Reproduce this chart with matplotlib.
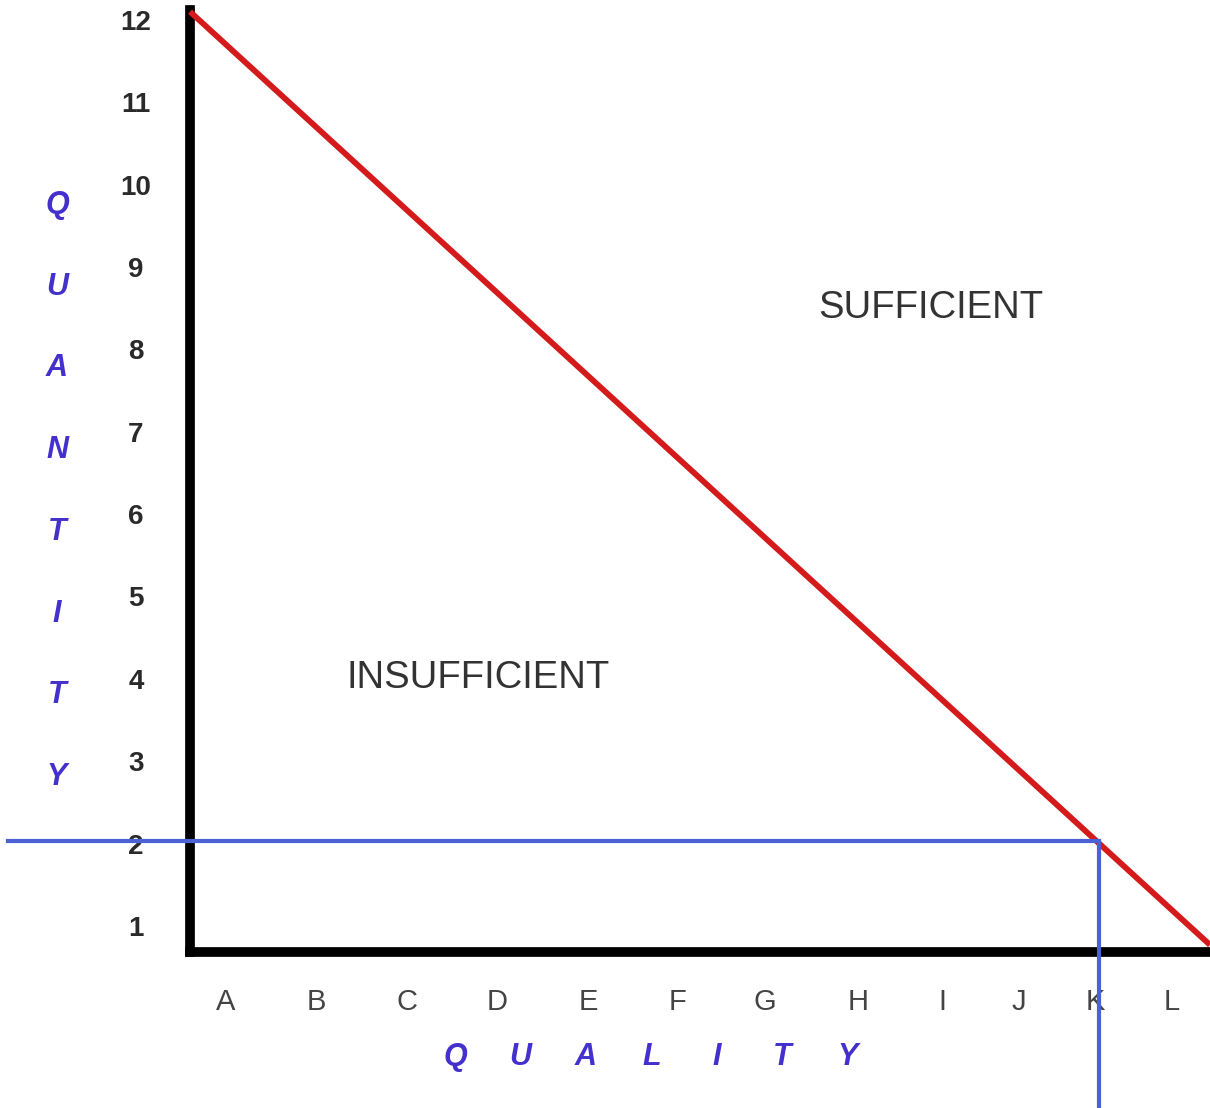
import matplotlib
matplotlib.use("Agg")
import matplotlib.pyplot as plt

# ---- data ----
x_labels = ["A", "B", "C", "D", "E", "F", "G", "H", "I", "J", "K", "L"]
x_ticks = [1.0, 2.0, 3.0, 4.0, 5.01, 6.0, 6.96, 7.99, 8.92, 9.77, 10.62, 11.46]
y_ticks = list(range(1, 13))
y_labels = [str(v) for v in y_ticks]

red_x = [0.602, 11.885]
red_y = [12.1, 0.77]

blue_h_x = [-1.41, 10.66]
blue_h_y = [2.03, 2.03]
blue_v_x = [10.66, 10.66]
blue_v_y = [2.03, -1.4]

region_labels = ["INSUFFICIENT", "SUFFICIENT"]
region_x = [3.79, 8.8]
region_y = [4.01, 8.5]

y_title = "QUANTITY"
x_title = "QUALITY"

# ---- figure ----
W, H = 1210, 1108
fig = plt.figure(figsize=(W / 100, H / 100), dpi=100)
plt.rcParams['font.family'] = ['Liberation Sans', 'DejaVu Sans']

ax = fig.add_axes([190 / W, (H - 952) / H, (W - 190) / W, (952 - 10) / H])
ax.set_xlim(0.602, 11.885)
ax.set_ylim(0.684, 12.12)

for s in ["top", "right"]:
    ax.spines[s].set_visible(False)
for s in ["left", "bottom"]:
    ax.spines[s].set_linewidth(7)
    ax.spines[s].set_color("black")
    ax.spines[s].set_capstyle("projecting")

ax.set_xticks(x_ticks)
ax.set_xticklabels(x_labels, fontsize=21, color="#444444")
ax.set_yticks(y_ticks)
ax.set_yticklabels(y_labels, fontsize=20, color="#2a2a2a")
ax.tick_params(axis="both", length=0)
ax.tick_params(axis="y", pad=39)
ax.tick_params(axis="x", pad=36)
for t in ax.get_yticklabels():
    t.set_ha("center")
    t.set_fontweight("bold")
for t in ax.get_xticklabels():
    t.set_va("center")

ax.plot(red_x, red_y, color="#d41a1a", lw=4.2, solid_capstyle="butt", clip_on=False, zorder=3)
ax.plot(blue_h_x, blue_h_y, color="#4b62d6", lw=3, clip_on=False, zorder=5)
ax.plot(blue_v_x, blue_v_y, color="#4b62d6", lw=3, clip_on=False, zorder=5)

for lab, xx, yy in zip(region_labels, region_x, region_y):
    ax.text(xx, yy, lab, fontsize=27.5, color="#333333", ha="center", va="center")

# vertical axis title, letter by letter
for i, ch in enumerate(y_title):
    fig.text(57 / W, 1 - (205 + i * 81.7) / H, ch, fontsize=22, color="#4430cc",
             fontweight="bold", fontstyle="italic", ha="center", va="center")

# horizontal axis title, letter by letter
for i, ch in enumerate(x_title):
    fig.text((455 + i * 65.5) / W, 1 - 1057 / H, ch, fontsize=22, color="#4430cc",
             fontweight="bold", fontstyle="italic", ha="center", va="center")

fig.savefig("out.png", dpi=100, facecolor="white")
